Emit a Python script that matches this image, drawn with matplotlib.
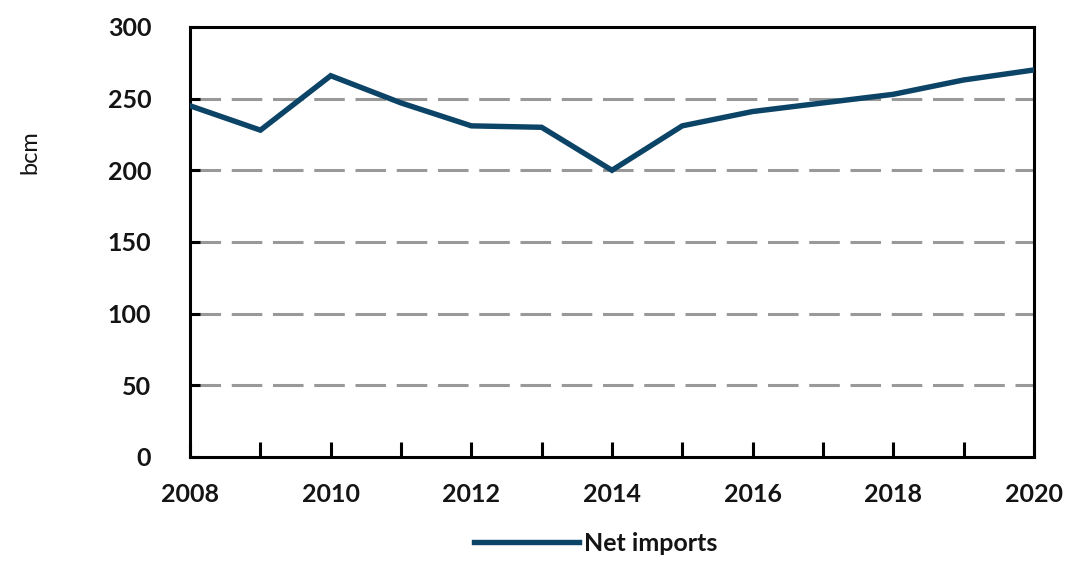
import matplotlib
matplotlib.use('Agg')
import matplotlib.pyplot as plt
import numpy as np

plt.rcParams['font.family'] = ['Lato', 'DejaVu Sans']

years = [2008, 2009, 2010, 2011, 2012, 2013, 2014, 2015, 2016, 2017, 2018, 2019, 2020]
net_imports = [245, 228, 266, 247, 231, 230, 200, 231, 241, 247, 253, 263, 270]

LINE_COLOR = '#0b4466'
TXT = '#141414'

fig = plt.figure(figsize=(10.68, 5.62), dpi=100)
ax = fig.add_axes([0.178, 0.187, 0.79, 0.765])

ax.plot(years, net_imports, color=LINE_COLOR, lw=3.9, solid_joinstyle='miter',
        label='Net imports', zorder=3)

ax.set_xlim(2008, 2020)
ax.set_ylim(0, 300)
ax.set_xticks(np.arange(2008, 2021, 2))
ax.set_xticks(np.arange(2008, 2021, 1), minor=True)
ax.set_yticks(np.arange(0, 301, 50))

# серые пунктирные линии сетки только внутри
for yv in range(50, 300, 50):
    ax.axhline(yv, color='#999999', lw=2.2, dashes=(10, 3.5), zorder=1)

for s in ax.spines.values():
    s.set_linewidth(2.2)
    s.set_color('black')

ax.tick_params(axis='both', which='both', direction='in', width=2.2, color='black')
ax.tick_params(axis='y', length=7, pad=28, labelsize=18, labelcolor=TXT)
ax.tick_params(axis='x', which='major', length=11, pad=19, labelsize=18, labelcolor=TXT)
ax.tick_params(axis='x', which='minor', length=11)
for lab in ax.get_xticklabels() + ax.get_yticklabels():
    lab.set_fontweight('bold')

fig.text(0.028, 0.73, 'bcm', rotation=90, fontsize=17, color=TXT,
         ha='center', va='center')

leg = fig.legend(loc='lower center', bbox_to_anchor=(0.558, -0.027), frameon=False,
                 handlelength=4.2, handletextpad=0.2, fontsize=18)
for t in leg.get_texts():
    t.set_fontweight('bold')
    t.set_color(TXT)

plt.savefig('out.png', dpi=100)
plt.close()
